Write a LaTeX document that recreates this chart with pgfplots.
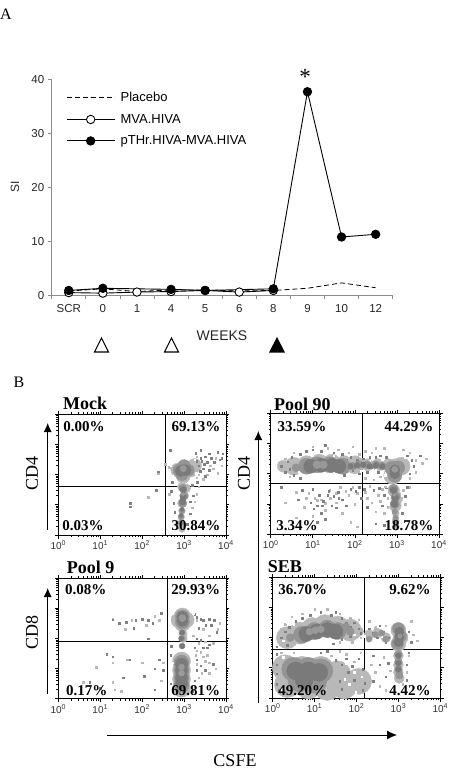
\documentclass[border=0pt]{standalone}
\usepackage{fontspec}
\setmainfont{Liberation Serif}
\newfontfamily\arial{Liberation Sans}
\usepackage{pgfplots}
\usetikzlibrary{arrows.meta}
\pgfplotsset{compat=1.18}
\definecolor{axg}{gray}{0.55}
\definecolor{spA}{gray}{0.50}
\definecolor{spB}{gray}{0.72}
\definecolor{lite}{gray}{0.72}
\definecolor{halo}{gray}{0.58}
\definecolor{body}{gray}{0.48}
\definecolor{core}{gray}{0.60}
\pgfplotsset{
 facs/.style={scale only axis,xmin=0,xmax=4,ymin=0,ymax=4,clip=true,
  axis line style={line width=0.9pt,black},
  xtick={0,1,2,3,4},ytick={0,1,2,3,4},
  xticklabels={10\textsuperscript{0},10\textsuperscript{1},10\textsuperscript{2},10\textsuperscript{3},10\textsuperscript{4}},
  yticklabels={},
  minor xtick={0.301,0.477,0.602,0.699,0.778,0.845,0.903,0.954,1.301,1.477,1.602,1.699,1.778,1.845,1.903,1.954,2.301,2.477,2.602,2.699,2.778,2.845,2.903,2.954,3.301,3.477,3.602,3.699,3.778,3.845,3.903,3.954},
  minor ytick={0.301,0.477,0.602,0.699,0.778,0.845,0.903,0.954,1.301,1.477,1.602,1.699,1.778,1.845,1.903,1.954,2.301,2.477,2.602,2.699,2.778,2.845,2.903,2.954,3.301,3.477,3.602,3.699,3.778,3.845,3.903,3.954},
  tick align=outside,major tick length=3.5pt,minor tick length=2pt,
  tick style={black,line width=0.7pt},
  xticklabel style={font=\arial\fontsize{10}{10}\selectfont,text=black!80,yshift=1pt},
  anchor=south west},
 sA/.style={only marks,mark=square*,mark size=0.8pt,color=spA,mark options={draw=none,fill=spA}},
 sB/.style={only marks,mark=square*,mark size=0.8pt,color=spB,mark options={draw=none,fill=spB}},
 sW/.style={only marks,mark=square*,mark size=0.8pt,color=white,mark options={draw=none,fill=white}},
 bl/.style 2 args={only marks,color=#1,mark=*,mark size=#2,mark options={draw=none,fill=#1}},
 quad/.style={black,line width=0.9pt,no marks},
}
\newcommand{\pct}[3]{\node[font=\bfseries\fontsize{15}{15}\selectfont] at (#1,#2) {#3};}
\newcommand{\ttl}[3]{\node[font=\bfseries\fontsize{18}{18}\selectfont,anchor=west,inner sep=0pt] at (#1,#2-1.5) {#3};}
\newcommand{\vlab}[3]{\node[font=\fontsize{18}{18}\selectfont,rotate=90] at (#1,#2) {#3};}
\begin{document}
\begin{tikzpicture}[x=1pt,y=-1pt]
\useasboundingbox (0,0) rectangle (450,769);
% panel letters
\node[font=\fontsize{16}{16}\selectfont,inner sep=0pt] at (6,14) {A};
\node[font=\fontsize{16}{16}\selectfont,inner sep=0pt] at (19,382) {B};
% ---------- A ----------
\begin{axis}[at={(51.7pt,-295.3pt)},anchor=south west,scale only axis,width=341pt,height=216pt,
 xmin=0,xmax=10,ymin=0,ymax=40,clip=false,
 axis lines=left,axis line style={-,axg,line width=0.8pt},
 xtick={0.5,1.5,2.5,3.5,4.5,5.5,6.5,7.5,8.5,9.5},
 xticklabels={SCR,0,1,4,5,6,8,9,10,12},
 minor xtick={0,1,2,3,4,5,6,7,8,9,10},
 ytick={0,10,20,30,40},
 tick align=outside,major tick length=4pt,minor tick length=4pt,
 major x tick style={draw=none},minor x tick style={axg,line width=0.7pt},
 y tick style={axg,line width=0.7pt},
 x tick label style={yshift=-2pt},
 tick label style={/pgf/number format/assume math mode=true,font=\arial\fontsize{11.5}{12}\selectfont,text=black!85},
 legend style={draw=none,fill=none,at={(axis cs:0.42,37.9)},anchor=north west,font=\arial\fontsize{13}{13}\selectfont,row sep=8pt,inner sep=0pt,nodes={inner sep=1.5pt}},
 legend cell align=left,
 legend image code/.code={\draw[mark repeat=2,mark phase=2,#1] plot coordinates {(0pt,0pt) (24pt,0pt) (48pt,0pt)};\path (52pt,0pt);},
]
\addplot[black,line width=0.8pt,dash pattern=on 5pt off 3pt,no marks] coordinates {(0.5,0.8)(1.5,1.2)(2.5,0.7)(3.5,1.0)(4.5,1.0)(5.5,0.8)(6.5,0.9)(7.5,1.3)(8.5,2.3)(9.5,1.4)};
\addlegendentry{Placebo}
\addplot[black,line width=0.9pt,mark=*,mark size=4.2pt,mark options={fill=white,solid,line width=0.9pt}] coordinates {(0.5,0.5)(1.5,0.4)(2.5,0.6)(3.5,0.7)(4.5,0.9)(5.5,0.6)(6.5,0.9)};
\addlegendentry{MVA.HIVA}
\addplot[black,line width=0.9pt,mark=*,mark size=4.2pt,mark options={fill=black}] coordinates {(0.5,0.9)(1.5,1.3)(3.5,1.1)(4.5,0.9)(6.5,1.2)(7.5,37.7)(8.5,10.8)(9.5,11.3)};
\addlegendentry{pTHr.HIVA-MVA.HIVA}
\end{axis}
\node[font=\arial\fontsize{12}{12}\selectfont,rotate=90,text=black!85] at (15,187) {SI};
\node[font=\arial\fontsize{14}{14}\selectfont,text=black!85] at (222,336) {WEEKS};
\node[font=\fontsize{23}{23}\selectfont,inner sep=0pt] at (305,77) {*};
\draw[black,line width=1.1pt,line join=miter] (94.5,352)--(101.5,338)--(108.5,352)--cycle;
\draw[black,line width=1.1pt,line join=miter] (164.5,352)--(171.5,338)--(178.5,352)--cycle;
\fill[black] (269,352.5)--(277,337)--(285,352.5)--cycle;
% ---------- Mock ----------
\begin{axis}[facs,at={(58.3pt,-535pt)},width=167.7pt,height=120.7pt]
\addplot[bl={lite}{7pt}] coordinates {(2.85,2.15)(3.0,2.25)(3.15,2.15)(2.98,1.95)(3.25,2.3)};
\addplot[bl={lite}{4.5pt}] coordinates {(2.95,1.6)(3.05,1.55)(3.0,1.3)(2.95,1.05)};
\addplot[bl={lite}{3.4pt}] coordinates {(2.95,0.8)(2.93,0.6)(2.93,0.4)(2.95,0.2)};
\addplot[sB] coordinates {(2.55,2.35)(2.65,2.25)(3.3,1.9)(3.35,2.0)(3.45,1.85)(3.55,2.0)(3.3,2.6)(3.62,2.3)(3.7,2.2)(3.8,2.05)(3.9,2.3)(3.75,2.55)(3.35,1.6)(3.3,1.35)(2.65,1.35)(2.15,1.25)(2.39,2.04)(3.2,0.9)(3.25,1.1)};
\addplot[sA] coordinates {(3.35,2.3)(3.4,2.55)(3.45,2.2)(3.5,2.6)(3.55,2.42)(3.42,2.45)(3.6,2.7)(3.48,2.35)(3.3,2.45)(3.65,2.55)(3.72,2.42)(3.85,2.5)(3.92,2.7)(3.8,2.75)(3.9,2.55)(3.6,2.15)(3.38,2.12)(3.5,1.95)(3.28,2.72)(2.67,2.82)(3.4,2.82)(3.32,1.75)(3.2,1.65)(2.7,1.45)(2.72,1.75)(2.39,2.1)(1.71,1.05)(1.71,0.94)(2.33,1.49)(3.22,1.3)(2.75,1.05)(3.15,1.1)(2.78,0.75)(3.15,0.7)(3.08,0.35)(2.82,0.35)};
\addplot[sW] coordinates {(2.68,2.3)(2.72,1.95)(3.28,2.05)(3.25,2.5)(3.12,2.6)(2.8,2.52)(3.22,1.8)(2.75,1.2)(3.18,1.45)(3.1,0.95)(2.78,0.95)(3.05,0.55)(2.82,0.55)};
\addplot[bl={halo}{6pt}] coordinates {(2.88,2.15)(3.0,2.2)(3.1,2.15)(2.95,2.0)(3.0,2.3)};
\addplot[bl={halo}{4pt}] coordinates {(2.97,1.55)(3.0,1.3)(2.97,1.05)};
\addplot[bl={halo}{2.8pt}] coordinates {(2.95,0.8)(2.93,0.6)(2.93,0.4)};
\addplot[bl={body}{5.5pt}] coordinates {(2.98,2.15)(2.92,2.12)(3.04,2.15)};
\addplot[bl={body}{3.2pt}] coordinates {(2.98,1.5)(2.98,1.25)(2.96,1.1)};
\addplot[bl={body}{2pt}] coordinates {(2.95,0.85)(2.93,0.65)};
\addplot[bl={core}{3.2pt}] coordinates {(2.98,2.2)};
\addplot[bl={core}{1.8pt}] coordinates {(2.98,1.35)};
\addplot[quad] coordinates {(2.56,0)(2.56,4)};
\addplot[quad] coordinates {(0,1.6)(4,1.6)};
\end{axis}
\ttl{63}{405}{Mock}
\pct{84}{427}{0.00\%}\pct{196}{427}{69.13\%}\pct{83}{526}{0.03\%}\pct{196}{526}{30.84\%}
\vlab{32}{473}{CD4}
\draw[black,line width=0.9pt,-{Latex[length=9pt,width=8pt]}] (47.7,530)--(47.7,423);
% ---------- Pool 90 ----------
\begin{axis}[facs,at={(270.7pt,-534.3pt)},width=168.3pt,height=121pt]
\addplot[bl={lite}{9pt}] coordinates {(0.55,2.25)(0.85,2.3)(1.15,2.35)(1.45,2.35)(1.75,2.3)(2.0,2.3)};
\addplot[bl={lite}{6pt}] coordinates {(0.3,2.25)(2.3,2.3)(2.55,2.3)(2.8,2.3)};
\addplot[bl={lite}{9pt}] coordinates {(2.95,2.2)(3.1,2.25)(2.9,1.95)};
\addplot[bl={lite}{6pt}] coordinates {(2.92,1.45)(3.0,1.2)(2.96,0.95)};
\addplot[bl={lite}{3.6pt}] coordinates {(2.97,0.7)(2.97,0.45)(2.97,0.25)};
\addplot[sB] coordinates {(0.2,2.35)(0.3,2.15)(0.35,2.5)(0.45,1.9)(0.55,2.7)(1.0,2.9)(1.35,2.85)(1.6,2.8)(1.85,2.7)(1.95,2.9)(2.1,2.65)(2.25,2.75)(2.4,2.7)(2.5,2.85)(2.6,1.9)(2.25,1.85)(2.45,1.8)(2.7,2.85)(3.15,2.8)(3.3,2.7)(3.45,2.45)(3.6,2.35)(3.7,2.5)(3.45,2.05)(3.3,1.85)(0.35,1.05)(0.6,1.4)(0.8,0.9)(0.9,1.35)(1.05,1.2)(1.3,0.8)(1.4,1.45)(1.55,1.05)(1.7,0.7)(1.85,1.3)(2.0,1.0)(2.25,1.4)(2.4,1.05)(2.5,0.75)(2.65,1.5)(2.6,1.1)(2.7,0.7)(3.15,1.45)(3.2,1.0)(3.3,1.55)(0.6,0.55)(1.0,0.6)(1.9,0.4)(2.05,0.25)(1.2,1.15)(1.3,1.02)(1.42,1.2)(1.55,1.35)(1.1,1.12)(0.85,1.2)(1.65,1.55)(1.78,1.42)(1.95,1.55)(2.05,1.35)(2.3,1.2)(2.55,1.3)(2.35,1.6)(2.78,1.2)(2.78,0.9)(2.72,1.58)};
\addplot[sA] coordinates {(0.25,2.25)(0.35,2.05)(0.4,2.4)(0.5,2.55)(0.45,2.15)(0.55,2.25)(0.55,1.95)(0.7,2.65)(0.7,1.85)(0.85,2.75)(1.0,2.8)(1.2,2.75)(1.3,2.95)(1.5,2.7)(1.7,2.65)(1.8,2.45)(1.75,1.95)(1.9,2.55)(1.95,2.1)(2.05,2.45)(2.1,2.0)(2.2,2.5)(2.3,2.05)(2.35,2.55)(2.4,2.2)(2.5,2.55)(2.55,2.05)(2.6,2.6)(2.65,2.3)(2.75,2.55)(3.25,2.6)(3.35,2.45)(3.4,2.25)(3.3,2.0)(3.55,2.6)(0.25,1.55)(0.65,1.15)(0.75,1.45)(0.95,1.05)(1.0,1.5)(1.1,0.95)(1.15,1.3)(1.2,0.7)(1.25,1.1)(1.35,1.3)(1.45,0.95)(1.5,1.25)(1.6,1.4)(1.7,1.15)(1.8,0.95)(1.9,1.5)(2.1,1.55)(2.15,1.2)(2.3,0.9)(2.45,1.45)(2.65,0.95)(2.7,1.3)(2.75,1.5)(3.2,1.25)(3.25,1.55)(1.1,0.4)(1.3,0.5)(2.5,0.35)(2.7,0.3)(1.22,0.95)(1.38,1.42)(1.02,0.85)(1.55,0.88)(1.62,1.2)(2.02,1.42)(2.22,1.5)(2.58,1.52)(2.85,1.5)(3.12,0.7)};
\addplot[sW] coordinates {(0.42,2.6)(0.68,2.05)(1.0,2.62)(1.5,2.6)(1.85,2.6)(2.15,2.1)(2.35,2.42)(2.5,2.15)(2.65,2.48)(2.75,2.05)(3.18,2.55)(3.2,1.85)(2.72,1.95)(3.12,1.3)(2.75,1.45)(3.15,0.9)(2.8,1.0)};
\addplot[bl={halo}{8pt}] coordinates {(0.85,2.25)(1.1,2.3)(1.4,2.3)(1.7,2.25)};
\addplot[bl={halo}{4pt}] coordinates {(0.6,2.2)(1.95,2.25)(2.1,2.3)(2.3,2.3)(2.5,2.3)(2.65,2.25)};
\addplot[bl={halo}{7pt}] coordinates {(2.88,2.18)(3.02,2.2)(2.95,1.95)};
\addplot[bl={halo}{4.6pt}] coordinates {(2.92,1.5)(2.97,1.25)(2.95,1.0)};
\addplot[bl={halo}{2.8pt}] coordinates {(2.95,0.75)(2.97,0.55)(2.97,0.35)};
\addplot[bl={body}{7pt}] coordinates {(0.95,2.25)(1.2,2.28)(1.45,2.28)(1.62,2.25)};
\addplot[bl={body}{2.8pt}] coordinates {(1.9,2.25)(2.05,2.28)(2.2,2.3)(2.35,2.25)(2.5,2.28)(2.65,2.25)};
\addplot[bl={body}{5pt}] coordinates {(2.95,2.13)(2.95,2.0)};
\addplot[bl={body}{3.4pt}] coordinates {(2.92,1.45)(2.96,1.2)(2.94,1.0)};
\addplot[bl={core}{4pt}] coordinates {(1.1,2.3)(1.25,2.3)};
\addplot[bl={core}{3.2pt}] coordinates {(2.95,2.15)};
\addplot[bl={core}{1.6pt}] coordinates {(2.94,1.3)};
\addplot[quad] coordinates {(2.18,0)(2.18,4)};
\addplot[quad] coordinates {(0,1.69)(4,1.69)};
\end{axis}
\ttl{274}{406}{Pool 90}
\pct{302}{427}{33.59\%}\pct{409}{427}{44.29\%}\pct{297}{526}{3.34\%}\pct{409}{526}{18.78\%}
\vlab{244}{473}{CD4}
\draw[black,line width=0.9pt,-{Latex[length=9pt,width=8pt]}] (258.3,703)--(258.3,431);
% ---------- Pool 9 ----------
\begin{axis}[facs,at={(58.3pt,-698.7pt)},width=167.7pt,height=120.4pt]
\addplot[bl={lite}{8pt}] coordinates {(2.96,2.75)(2.96,2.5)(2.88,2.62)(3.05,2.62)};
\addplot[bl={lite}{4pt}] coordinates {(2.98,2.15)(2.98,2.0)};
\addplot[bl={lite}{9pt}] coordinates {(2.94,1.25)(2.94,0.95)(2.94,0.65)(2.94,0.35)};
\addplot[sB] coordinates {(1.3,2.65)(1.6,2.3)(1.75,2.6)(2.1,2.45)(2.3,2.75)(2.4,2.6)(0.9,1.05)(1.15,1.5)(1.3,0.55)(1.65,1.3)(2.0,1.2)(0.6,0.55)(1.3,1.2)(1.35,0.3)(1.5,0.25)(2.5,1.2)(2.45,0.6)(3.3,2.6)(3.45,2.3)(3.6,2.1)(3.8,2.3)(3.5,1.9)(3.7,1.85)(3.3,1.6)(3.45,1.4)(3.6,1.2)(3.75,1.0)(3.35,0.7)(3.25,0.4)(3.6,0.85)(3.85,2.5)(3.22,2.1)(3.35,1.85)(3.28,1.45)(3.4,1.55)(3.5,1.25)(3.3,1.15)(3.42,0.85)(3.55,1.45)};
\addplot[sA] coordinates {(1.3,2.62)(1.62,2.55)(1.85,2.6)(1.8,2.35)(2.0,2.65)(2.15,2.6)(2.25,2.5)(1.45,2.5)(2.45,2.85)(2.15,2.0)(1.15,1.48)(1.3,1.4)(1.7,1.3)(2.4,1.3)(2.5,0.95)(2.3,1.0)(2.05,0.75)(1.55,0.7)(0.75,0.55)(1.0,0.35)(2.3,0.3)(3.25,2.8)(3.3,2.7)(3.35,2.35)(3.4,2.65)(3.45,2.6)(3.52,2.45)(3.6,2.65)(3.65,2.45)(3.72,2.6)(3.78,2.2)(3.3,2.0)(3.4,1.95)(3.55,1.7)(3.6,1.8)(3.25,1.7)(3.3,1.3)(3.4,1.1)(3.45,1.7)(3.3,0.95)(3.25,0.6)(3.7,1.15)(3.5,0.95)(2.7,1.75)(2.68,1.45)(2.68,0.5)(3.2,0.25)};
\addplot[sW] coordinates {(2.68,2.4)(2.72,2.85)(3.22,2.85)(3.25,2.45)(2.72,1.2)(2.68,0.8)(3.2,1.3)(3.22,0.85)(3.2,0.45)};
\addplot[bl={halo}{7pt}] coordinates {(2.96,2.72)(2.96,2.55)};
\addplot[bl={halo}{3pt}] coordinates {(2.95,2.2)(2.95,2.0)(2.95,1.75)};
\addplot[bl={halo}{7.5pt}] coordinates {(2.94,1.2)(2.94,0.95)(2.94,0.7)(2.94,0.45)};
\addplot[bl={body}{5.5pt}] coordinates {(2.96,2.72)(2.96,2.58)};
\addplot[bl={body}{2.5pt}] coordinates {(2.96,2.2)(2.93,2.0)(2.96,1.75)};
\addplot[bl={body}{6pt}] coordinates {(2.94,1.15)(2.94,0.95)(2.94,0.7)(2.94,0.5)};
\addplot[bl={core}{3.5pt}] coordinates {(2.96,2.68)};
\addplot[bl={core}{3pt}] coordinates {(2.94,1.05)(2.94,0.85)};
\addplot[quad] coordinates {(2.61,0)(2.61,4)};
\addplot[quad] coordinates {(0,1.91)(4,1.91)};
\end{axis}
\ttl{66.7}{569}{Pool 9}
\pct{85.7}{590}{0.08\%}\pct{195.7}{590}{29.93\%}\pct{86.7}{691}{0.17\%}\pct{195.7}{691}{69.81\%}
\vlab{32}{632}{CD8}
\draw[black,line width=0.9pt,-{Latex[length=9pt,width=8pt]}] (47.7,694)--(47.7,588);
% ---------- SEB ----------
\begin{axis}[facs,at={(272.7pt,-698pt)},width=167.6pt,height=120.7pt]
\addplot[bl={lite}{11pt}] coordinates {(0.35,2.0)(0.65,2.15)(0.95,2.3)(1.25,2.4)(1.55,2.35)(1.85,2.25)};
\addplot[bl={lite}{5pt}] coordinates {(2.05,2.2)(2.3,2.1)(2.5,2.15)(2.7,2.0)};
\addplot[bl={lite}{7.5pt}] coordinates {(3.0,2.25)(3.05,2.0)(3.0,1.8)};
\addplot[bl={lite}{5pt}] coordinates {(3.0,1.4)(3.0,1.1)(3.0,0.85)(3.02,0.65)};
\addplot[bl={lite}{13pt}] coordinates {(0.3,1.0)(0.7,0.95)(1.15,0.95)(1.55,0.8)(0.35,0.45)(0.85,0.4)(1.3,0.35)(1.7,0.4)(2.05,0.55)};
\addplot[sB] coordinates {(0.15,1.9)(0.2,2.3)(0.3,2.45)(0.45,2.7)(0.7,2.8)(1.0,2.95)(1.3,2.95)(1.6,2.8)(1.85,2.65)(2.05,2.6)(2.1,2.0)(1.9,1.85)(1.6,1.85)(2.3,2.55)(2.45,2.35)(2.55,2.15)(2.7,2.4)(3.3,2.55)(3.35,2.1)(3.45,1.9)(0.2,1.5)(0.5,1.5)(1.4,1.4)(1.6,1.55)(1.75,1.45)(1.95,1.2)(2.1,1.5)(2.0,0.85)(1.85,0.6)(2.05,0.4)(1.8,0.3)(2.35,1.1)(2.45,0.85)(2.55,0.4)(2.65,1.35)(2.8,0.9)(2.7,0.25)(3.25,1.4)(3.2,0.85)(3.1,0.45)};
\addplot[sA] coordinates {(0.1,1.7)(0.2,2.0)(0.3,2.2)(0.35,1.75)(0.4,2.35)(0.55,2.55)(0.7,2.65)(0.9,2.75)(1.15,2.85)(1.4,2.75)(1.5,2.85)(1.65,2.65)(1.75,2.5)(1.85,2.35)(1.95,2.5)(2.05,2.3)(2.1,2.15)(1.85,2.05)(1.65,1.95)(1.45,1.8)(2.3,2.3)(2.4,2.15)(2.5,2.0)(2.55,2.4)(2.65,2.2)(2.75,2.0)(2.7,1.85)(3.25,2.2)(3.3,1.85)(0.1,1.45)(0.1,1.1)(0.1,0.8)(0.1,0.45)(0.15,0.25)(1.15,1.5)(1.3,1.55)(1.5,1.25)(1.65,1.1)(1.75,1.3)(1.8,0.85)(1.9,1.05)(1.6,0.55)(1.65,0.3)(1.95,0.6)(2.05,1.3)(2.15,0.95)(2.2,0.5)(2.15,0.25)(2.4,1.4)(2.55,1.1)(2.7,0.7)(2.75,1.15)(2.4,0.55)(3.2,1.1)(3.2,0.6)(3.25,1.5)};
\addplot[sW] coordinates {(0.25,1.9)(0.5,2.45)(0.35,2.5)(1.7,2.75)(1.95,2.1)(1.75,1.75)(1.25,1.75)(0.9,1.75)(2.2,2.05)(2.4,2.4)(2.6,2.05)(0.25,1.35)(0.65,1.5)(1.0,1.48)(1.75,1.15)(1.95,0.85)(2.05,1.1)(1.82,0.45)(1.98,0.2)(2.12,0.7)(0.22,0.3)(0.3,0.75)(1.6,1.45)(1.9,1.4)(2.14,1.45)(1.72,0.62)};
\addplot[bl={halo}{8.5pt}] coordinates {(0.7,2.1)(1.0,2.22)(1.3,2.3)(1.55,2.22)};
\addplot[bl={halo}{4pt}] coordinates {(0.42,2.0)(1.75,2.35)(1.85,2.2)};
\addplot[bl={halo}{3pt}] coordinates {(2.3,1.95)(2.45,2.1)(2.6,2.15)(2.7,1.95)};
\addplot[bl={halo}{6pt}] coordinates {(3.0,2.3)(3.05,2.05)(2.98,1.8)};
\addplot[bl={halo}{3.8pt}] coordinates {(3.0,1.45)(3.0,1.2)(3.0,0.95)(3.02,0.75)};
\addplot[bl={halo}{12pt}] coordinates {(0.5,0.95)(0.85,0.95)(1.15,0.9)(0.65,0.6)(1.0,0.55)};
\addplot[bl={body}{7.5pt}] coordinates {(0.8,2.12)(1.05,2.2)(1.3,2.25)(1.5,2.2)};
\addplot[bl={body}{9pt}] coordinates {(0.55,0.9)(0.85,0.9)(1.1,0.85)(0.75,0.6)};
\addplot[bl={body}{4.6pt}] coordinates {(3.02,2.2)(3.02,2.0)(3.0,1.85)};
\addplot[bl={body}{2.8pt}] coordinates {(3.0,1.4)(3.0,1.15)(3.0,0.95)};
\addplot[bl={core}{3.5pt}] coordinates {(0.88,2.2)(1.02,2.25)(1.15,2.28)};
\addplot[bl={core}{2.2pt}] coordinates {(3.04,2.05)};
\addplot[quad] coordinates {(2.2,0)(2.2,4)};
\addplot[quad] coordinates {(0,1.61)(4,1.61)};
\end{axis}
\ttl{267.7}{568}{SEB}
\pct{302.7}{590}{36.70\%}\pct{410}{590}{9.62\%}\pct{302.7}{691}{49.20\%}\pct{410}{691}{4.42\%}
% ---------- bottom ----------
\draw[black,line width=0.9pt,-{Latex[length=10pt,width=9pt]}] (107,735)--(397,735);
\node[font=\fontsize{18}{18}\selectfont,anchor=base,inner sep=0pt] at (235,766.5) {CSFE};
\end{tikzpicture}
\end{document}
